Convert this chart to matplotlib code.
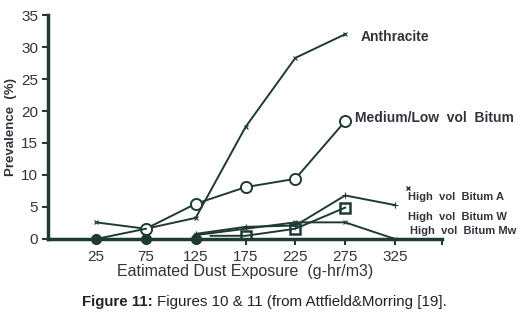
import matplotlib
matplotlib.use('Agg')
import matplotlib.pyplot as plt

plt.rcParams['font.family'] = ['Liberation Sans', 'DejaVu Sans']

# exposure levels (g-hr/m3)
xticks = [25, 75, 125, 175, 225, 275, 325]

# series
anth_x = [25, 75, 125, 175, 225, 275]
anth_y = [2.6, 1.6, 3.3, 17.5, 28.3, 32.0]

medlow_x = [25, 75, 125, 175, 225, 275]
medlow_y = [0.0, 1.6, 5.5, 8.1, 9.4, 18.4]

hva_x = [125, 175, 225, 275, 325]
hva_y = [0.8, 1.9, 2.1, 6.8, 5.3]

hvw_x = [140, 175, 225, 275]
hvw_y = [0.5, 0.5, 1.6, 4.9]

hvmw_x = [125, 225, 275, 325]
hvmw_y = [0.6, 2.6, 2.6, 0.0]

zero_x = [25, 75, 125]
zero_y = [0.0, 0.0, 0.0]

labels = ['Anthracite', 'Medium/Low  vol  Bitum', 'High  vol  Bitum A',
          'High  vol  Bitum W', 'High  vol  Bitum Mw']
label_pos = [(291, 31.6), (285, 18.9), (338, 6.6), (338, 3.5), (340, 1.2)]

col = '#1e3a32'
txt = '#33333d'

fig = plt.figure(figsize=(5.2, 3.16), dpi=100)
ax = fig.add_axes([0.0923, 0.2437, 0.757, 0.7088])

ax.plot(anth_x, anth_y, color=col, lw=1.4, marker='x', ms=3, mew=0.8)
ax.plot(medlow_x[1:], medlow_y[1:], color=col, lw=1.4, marker='o', ms=8,
        mfc='white', mew=1.4)
ax.plot(medlow_x[:2], medlow_y[:2], color=col, lw=1.4)
ax.plot(hva_x, hva_y, color=col, lw=1.4, marker='+', ms=5, mew=0.8)
ax.plot(hvw_x, hvw_y, color=col, lw=1.4)
ax.plot(hvw_x[1:], hvw_y[1:], ls='none', marker='s', ms=7, mfc='none',
        mec=col, mew=1.8)
ax.plot(hvmw_x, hvmw_y, color=col, lw=1.4, marker='x', ms=3, mew=0.8)
ax.plot(zero_x, zero_y, ls='none', marker='o', ms=7, color=col,
        clip_on=False, zorder=5)
ax.plot([338], [8.0], ls='none', marker='x', ms=3, color=col, mew=1.0,
        clip_on=False)

sizes = [10, 10, 8, 8, 8]
for lab, (lx, ly), fs in zip(labels, label_pos, sizes):
    ax.text(lx, ly, lab, fontsize=fs, fontweight='bold', color=txt,
            va='center', ha='left', clip_on=False)

ax.set_xlim(-23.2, 371.8)
ax.set_ylim(0, 35)
ax.set_xticks(xticks + [371.8])
ax.set_xticklabels([str(v) for v in xticks] + [''])
ax.set_yticks(range(0, 36, 5))
ax.tick_params(axis='both', colors=col, labelcolor=txt, labelsize=11,
               width=1.5, length=4)
ax.tick_params(axis='x', pad=4)
ax.tick_params(axis='y', pad=3)

for s in ['top', 'right']:
    ax.spines[s].set_visible(False)
for s in ['left', 'bottom']:
    ax.spines[s].set_color(col)
    ax.spines[s].set_linewidth(2.5)

ax.set_ylabel('Prevalence  (%)', fontsize=9.5, fontweight='bold', color=txt,
              labelpad=3)
ax.set_xlabel('Eatimated Dust Exposure  (g-hr/m3)', fontsize=11.5, color=txt,
              labelpad=0)

fig.text(82 / 520, 0.045, 'Figure 11:', ha='left', va='center',
         fontsize=10.8, fontweight='bold', color='#222222')
fig.text(157 / 520, 0.045, 'Figures 10 & 11 (from Attfield&Morring [19].',
         ha='left', va='center', fontsize=10.9, color='#222222')

fig.savefig('out.png', dpi=100)
